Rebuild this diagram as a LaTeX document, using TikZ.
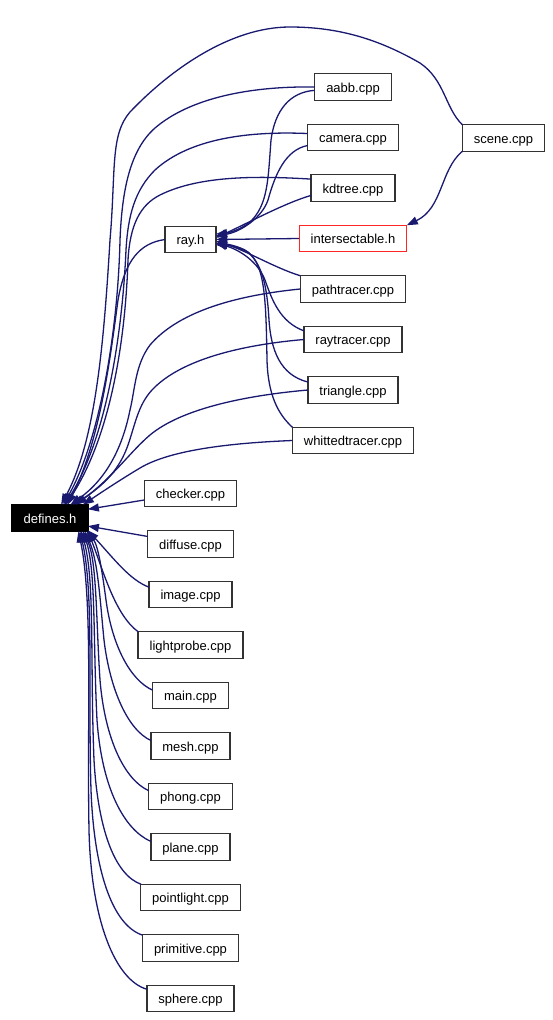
\documentclass[tikz,border=0pt]{standalone}
\usepackage{fontspec}
\setmainfont{Liberation Sans}
\usetikzlibrary{positioning,arrows.meta}

\definecolor{edgeblue}{RGB}{25,25,112}
\definecolor{boxgray}{RGB}{50,50,50}

\begin{document}
\begin{tikzpicture}[
    x=1pt, y=-1pt,
    node distance=24pt,
    >={Triangle[length=11pt,width=8pt]},
    file/.style={
        draw=boxgray,
        line width=1.4pt,
        fill=white,
        outer sep=0pt,
        inner xsep=11.5pt,
        inner ysep=0pt,
        minimum height=26.5pt,
        text height=13pt,
        text depth=2.7pt,
        font=\fontsize{13}{15}\selectfont
    },
    dep/.style={->, draw=edgeblue, line width=1.3pt}
]
    \useasboundingbox (0,0) rectangle (552,1020);

    % Headers
    \node[file, fill=black, draw=black, text=white] (defines) at (50,518) {defines.h};
    \node[file] (ray) at (190.5,239.5) {ray.h};
    \node[file] (scene) at (503.5,138) {scene.cpp};

    % Coluna da direita
    \node[file] (aabb) at (353,87) {aabb.cpp};
    \node[file, below=of aabb] (camera) {camera.cpp};
    \node[file, below=of camera] (kdtree) {kdtree.cpp};
    \node[file, draw=red!85, below=of kdtree] (intersect) {intersectable.h};
    \node[file, below=of intersect] (pathtracer) {pathtracer.cpp};
    \node[file, below=of pathtracer] (raytracer) {raytracer.cpp};
    \node[file, below=of raytracer] (triangle) {triangle.cpp};
    \node[file, below=of triangle] (whitted) {whittedtracer.cpp};

    % Coluna de baixo
    \node[file] (checker) at (190.5,493.5) {checker.cpp};
    \node[file, below=of checker] (diffuse) {diffuse.cpp};
    \node[file, below=of diffuse] (image) {image.cpp};
    \node[file, below=of image] (lightprobe) {lightprobe.cpp};
    \node[file, below=of lightprobe] (main) {main.cpp};
    \node[file, below=of main] (mesh) {mesh.cpp};
    \node[file, below=of mesh] (phong) {phong.cpp};
    \node[file, below=of phong] (plane) {plane.cpp};
    \node[file, below=of plane] (pointlight) {pointlight.cpp};
    \node[file, below=of pointlight] (primitive) {primitive.cpp};
    \node[file, below=of primitive] (sphere) {sphere.cpp};

    % Setas para ray.h
    \draw[dep] (aabb.185) .. controls (290,92) and (275,110) .. (271,140)
        .. controls (268,180) and (268,205) .. (250,222)
        .. controls (240,230) and (228,233) .. (ray.12);
    \draw[dep] (camera.190) .. controls (285,150) and (275,175) .. (268,200)
        .. controls (262,218) and (240,232) .. (ray.8);
    \draw[dep] (kdtree.190) .. controls (285,203) and (250,222) .. (ray.4);
    \draw[dep] (intersect.west) -- (ray.east);
    \draw[dep] (pathtracer.north west) .. controls (275,268) and (245,250) .. (ray.-4);
    \draw[dep] (raytracer.170) .. controls (280,322) and (272,300) .. (265,280)
        .. controls (258,262) and (240,250) .. (ray.-8);
    \draw[dep] (triangle.170) .. controls (280,375) and (271,350) .. (269,320)
        .. controls (267,285) and (262,262) .. (245,250)
        .. controls (235,245) and (225,244) .. (ray.-10);
    \draw[dep] (whitted.north west) .. controls (278,414) and (268,395) .. (267,360)
        .. controls (266,300) and (265,265) .. (248,252)
        .. controls (238,247) and (226,245) .. (ray.-12);

    % Seta para intersectable.h
    \draw[dep] (scene.south west) .. controls (440,170) and (443,208) .. (intersect.north east);

    % Setas para defines.h, de cima
    \draw[dep] (scene.north west) .. controls (445,108) and (445,80) .. (420,63)
        .. controls (380,40) and (340,27) .. (290,27)
        .. controls (230,27) and (170,70) .. (130,112)
        .. controls (110,135) and (116,170) .. (110,240)
        .. controls (104,340) and (96,440) .. (defines.50);
    \draw[dep] (aabb.west) .. controls (250,86) and (190,98) .. (155,128)
        .. controls (130,150) and (122,190) .. (120,240)
        .. controls (118,330) and (100,440) .. (defines.45);
    \draw[dep] (camera.175) .. controls (250,131) and (190,138) .. (155,170)
        .. controls (135,190) and (128,215) .. (126,250)
        .. controls (122,340) and (105,440) .. (defines.42);
    \draw[dep] (kdtree.168) .. controls (260,176) and (200,175) .. (160,195)
        .. controls (140,205) and (130,225) .. (128,260)
        .. controls (125,350) and (108,440) .. (defines.40);
    \draw[dep] (ray.west) .. controls (140,243) and (125,260) .. (118,300)
        .. controls (110,360) and (100,440) .. (defines.37);
    \draw[dep] (pathtracer.west) .. controls (240,295) and (180,310) .. (150,345)
        .. controls (135,365) and (135,390) .. (130,410)
        .. controls (122,450) and (105,480) .. (defines.33);
    \draw[dep] (raytracer.west) .. controls (240,345) and (180,360) .. (152,390)
        .. controls (138,405) and (135,425) .. (128,445)
        .. controls (120,468) and (105,485) .. (defines.30);
    \draw[dep] (triangle.west) .. controls (240,396) and (180,410) .. (150,435)
        .. controls (130,452) and (115,475) .. (defines.27);
    \draw[dep] (whitted.west) .. controls (230,443) and (170,450) .. (140,468)
        .. controls (120,480) and (105,490) .. (defines.22);

    % Setas para defines.h, de baixo
    \draw[dep] (checker.188) -- (defines.13);
    \draw[dep] (diffuse.170) -- (defines.-12);
    \draw[dep] (image.170) .. controls (130,580) and (115,560) .. (defines.-18);
    \draw[dep] (lightprobe.north west) .. controls (115,615) and (103,570) .. (defines.-19);
    \draw[dep] (main.172) .. controls (130,680) and (112,645) .. (106,600)
        .. controls (102,570) and (98,545) .. (defines.-20);
    \draw[dep] (mesh.172) .. controls (128,730) and (110,690) .. (104,640)
        .. controls (100,600) and (98,560) .. (defines.-21);
    \draw[dep] (phong.172) .. controls (125,780) and (105,740) .. (100,680)
        .. controls (96,620) and (97,560) .. (defines.-22);
    \draw[dep] (plane.172) .. controls (125,830) and (102,790) .. (97,720)
        .. controls (93,640) and (96,570) .. (defines.-22);
    \draw[dep] (pointlight.165) .. controls (115,875) and (98,830) .. (94,760)
        .. controls (90,660) and (95,580) .. (defines.-23);
    \draw[dep] (primitive.165) .. controls (112,925) and (94,870) .. (91,790)
        .. controls (88,690) and (94,590) .. (defines.-24);
    \draw[dep] (sphere.168) .. controls (115,980) and (91,920) .. (89,830)
        .. controls (87,720) and (93,600) .. (defines.-25);
\end{tikzpicture}
\end{document}
